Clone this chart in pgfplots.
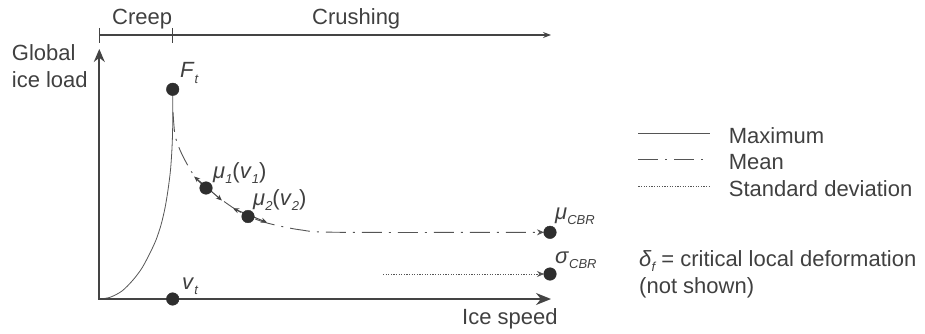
\documentclass[border=0pt]{standalone}
\usepackage{fontspec}
\setmainfont{Liberation Sans}
\usepackage{pgfplots}
\pgfplotsset{compat=1.18}
\usetikzlibrary{arrows.meta}
\definecolor{ink}{HTML}{444444}
\definecolor{crv}{HTML}{555555}
\definecolor{txt}{HTML}{404040}
\definecolor{dotc}{HTML}{2E2E2E}
\newcommand\sub[1]{\raisebox{-0.45ex}{\fontsize{13}{13}\selectfont\itshape #1}}
\tikzset{txt/.style={font=\fontsize{22}{26}\selectfont, text=txt, inner sep=0pt}}
\begin{document}
\begin{tikzpicture}
\begin{axis}[
  scale only axis, width=925pt, height=334pt,
  xmin=0, xmax=925, ymin=0, ymax=334, y dir=reverse,
  hide axis, clip=false,
  every axis plot/.append style={color=ink},
  legend style={at={(axis cs:638,127)}, anchor=north west, draw=none, fill=none,
    inner sep=0pt, outer sep=0pt, font=\fontsize{22}{26}\selectfont, text=txt,
    row sep=4.7pt, column sep=18pt,
    nodes={inner sep=0pt, text height=16pt, text depth=6pt}},
  legend cell align=left,
  legend image code/.code={\draw[#1, arrows=-] (0pt,5pt) -- (72pt,5pt);},
]
% frame for bounding box
\addplot[draw=none, forget plot] coordinates {(0,0) (925,334)};

% Maximum (solid)
\addplot[line width=0.8pt, color=crv, smooth, tension=0.5] coordinates {
  (99.3,299) (110,297.3) (122,291) (133,280) (142,268) (150,253) (156,240)
  (161,225) (165,208) (168,190) (170.5,170) (172,148) (172.7,125) (172.7,92)};
\addlegendentry{Maximum}

% Mean (dash-dot)
\addplot[line width=0.9pt, color=crv, smooth, tension=0.5,
  dash pattern=on 20pt off 7pt on 2pt off 7pt,
  -{Stealth[length=7pt,width=6pt]}] coordinates {
  (173,112) (175,135) (180,150) (187,164) (195,177) (206,188) (222,200)
  (235,209) (248,216) (267,223) (300,229.8) (340,232.3) (544,232.3)};
\addlegendentry{Mean}

% Standard deviation (dotted)
\addplot[line width=0.8pt, color=crv, dash pattern=on 1.2pt off 1.4pt,
  -{Stealth[length=7pt,width=6pt]}] coordinates {(383,274) (544,274)};
\addlegendentry{Standard deviation}

% axes with arrows
\addplot[forget plot, line width=1.8pt, {Stealth[length=13pt,width=11pt]}-{Stealth[length=15pt,width=12pt]}]
  coordinates {(99.3,49) (99.3,299) (551,299)};

% top regime bar
\addplot[forget plot, line width=1.2pt, -{Stealth[length=8pt,width=6pt]}] coordinates {(99.3,35) (551,35)};
\addplot[forget plot, line width=1.2pt] coordinates {(99.3,28) (99.3,43)};
\addplot[forget plot, line width=1.2pt] coordinates {(172.7,28) (172.7,43)};

% tangent double arrows
\addplot[forget plot, line width=1pt, {Stealth[length=6pt,width=5pt]}-{Stealth[length=6pt,width=5pt]}]
  coordinates {(194,176.5) (222,200.5)};
\addplot[forget plot, line width=1pt, {Stealth[length=6pt,width=5pt]}-{Stealth[length=6pt,width=5pt]}]
  coordinates {(233,208.5) (267,222.5)};

% points
\addplot[forget plot, only marks, mark=*, mark size=6.3pt, color=dotc, mark options={fill=dotc, draw=dotc}]
  coordinates {(172.7,89.3) (172.7,299) (206,188) (248,216.5) (550,232.3) (550,274)};

% texts
\node[txt, anchor=base west] at (axis cs:112,24.5) {Creep};
\node[txt, anchor=base west] at (axis cs:312,24.5) {Crushing};
\node[txt, anchor=base west] at (axis cs:11.7,61) {Global};
\node[txt, anchor=base west] at (axis cs:11.7,87.3) {ice load};
\node[txt, anchor=base west] at (axis cs:462,324) {Ice speed};
\node[txt, anchor=base west] at (axis cs:180,78) {\textit{F}\sub{t}};
\node[txt, anchor=base west] at (axis cs:182,289) {\textit{v}\sub{t}};
\node[txt, anchor=base west] at (axis cs:213,178) {\textit{μ}\sub{1}(\textit{v}\sub{1})};
\node[txt, anchor=base west] at (axis cs:253,205) {\textit{μ}\sub{2}(\textit{v}\sub{2})};
\node[txt, anchor=base west] at (axis cs:555,219) {\textit{μ}\sub{CBR}};
\node[txt, anchor=base west] at (axis cs:555,263) {\textit{σ}\sub{CBR}};
\node[txt, anchor=base west] at (axis cs:639,266.7) {\textit{δ}\sub{f} = critical local deformation};
\node[txt, anchor=base west] at (axis cs:639,293) {(not shown)};
\end{axis}
\end{tikzpicture}
\end{document}
